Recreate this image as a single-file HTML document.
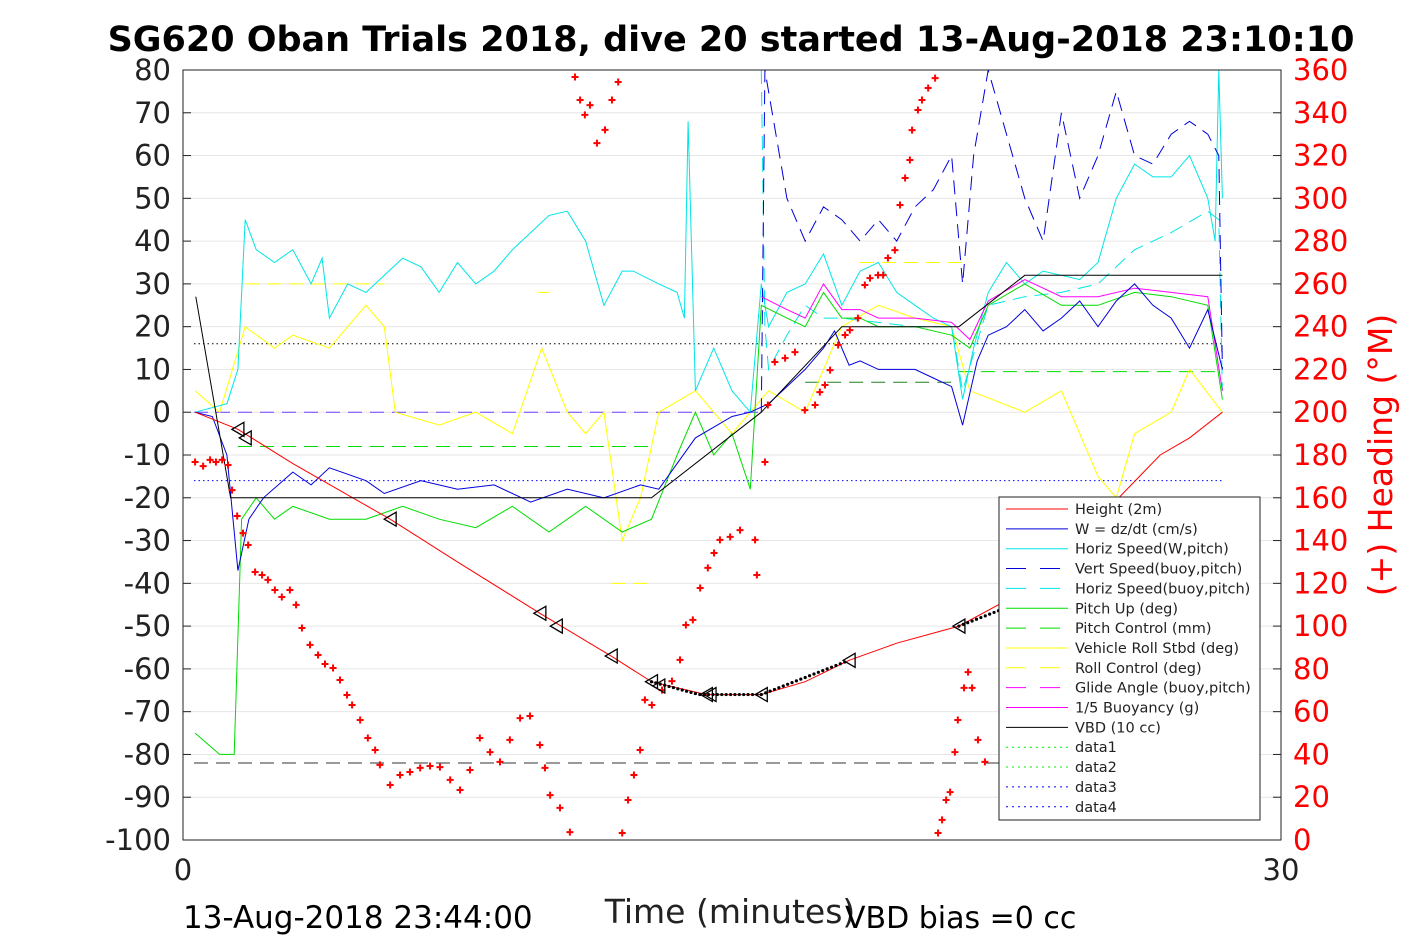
<!DOCTYPE html>
<html><head><meta charset="utf-8"><style>
body{margin:0;background:#fff;font-family:"Liberation Sans","DejaVu Sans",sans-serif}
svg{display:block}
</style></head><body>
<svg id="chart" width="1417" height="945" xmlns="http://www.w3.org/2000/svg" font-family="DejaVu Sans, Liberation Sans, sans-serif">
<rect width="1417" height="945" fill="#fff"/>
<g id="grid"></g><g id="series"></g><g id="axes"></g><g id="legend"></g>
</svg>
<script>
const NS='http://www.w3.org/2000/svg';
const X0=183,X1=1281,Y0=840,Y1=70;
const xs=t=>X0+(t/30)*(X1-X0);
const ys=v=>Y0-(v+100)/180*(Y0-Y1);
const hs=h=>Y0-h/360*(Y0-Y1);
const leftTicks=[80,70,60,50,40,30,20,10,0,-10,-20,-30,-40,-50,-60,-70,-80,-90,-100];
const rightTicks=[360,340,320,300,280,260,240,220,200,180,160,140,120,100,80,60,40,20,0];
const xTicks=[0,30];
const heightT=[0.33,1.5,3,5.66,7.5,9.75,11.7,12.8,14.3,15.8,17,18.2,19.5,21.2,22.5,24,25,26.7,27.5,28.4];
const heightV=[0,-4,-12,-25,-35,-47,-57,-63,-66,-66,-63,-58,-54,-50,-44,-35,-25,-10,-6,0];
const wT=[0.33,0.8,1.2,1.5,1.8,2.2,3,3.5,4,5,5.5,6.5,7.5,8.5,9.5,10.5,11.5,12.5,13,13.5,14,15,15.5,16,16.5,17,17.5,17.8,18.2,18.5,19,20,20.5,21,21.3,21.7,22,22.5,23,23.5,24,24.5,25,25.5,26,26.5,27,27.5,28,28.4];
const wV=[0,-1,-10,-37,-25,-20,-14,-17,-13,-16,-19,-16,-18,-17,-21,-18,-20,-17,-18,-12,-6,-1,0,2,6,10,15,19,11,12,10,10,8,6,-3,12,18,20,24,19,22,26,20,26,30,25,22,15,24,10];
const hsT=[0.33,1.2,1.5,1.7,2,2.5,3,3.5,3.8,4,4.5,5,5.5,6,6.5,7,7.5,8,8.5,9,9.5,10,10.5,11,11.5,12,12.3,13,13.5,13.7,13.8,14,14.5,15,15.5,15.8,16,16.5,17,17.5,18,18.5,19,19.5,20,20.5,21,21.3,21.6,22,22.5,23,23.5,24,24.5,25,25.5,26,26.5,27,27.5,28,28.2,28.3,28.4];
const hsV=[0,2,10,45,38,35,38,30,36,22,30,28,32,36,34,28,35,30,33,38,42,46,47,40,25,33,33,30,28,22,68,5,15,5,0,30,20,28,30,37,25,33,35,28,25,22,20,3,15,28,35,30,33,32,31,35,50,58,55,55,60,50,40,80,50];
const hbT=[15.8,15.9,16,16.5,17,17.5,18,19,20,21,21.3,22,23,24,25,26,27,28,28.3,28.4];
const hbV=[80,20,10,18,25,22,22,21,20,20,5,25,27,28,30,38,42,47,45,5];
const vbT=[15.8,15.9,16.2,16.5,17,17.5,18,18.5,19,19.5,20,20.5,21,21.3,21.6,22,22.5,23,23.5,24,24.5,25,25.5,26,26.5,27,27.5,28,28.3,28.4];
const vbV=[0,80,65,50,40,48,45,40,45,40,48,52,60,30,60,80,65,50,40,70,50,60,75,60,58,65,68,65,60,10];
const pitchT=[0.33,1,1.4,1.6,2,2.5,3,4,5,6,7,8,9,10,11,12,12.8,13.5,14,14.5,15,15.5,15.8,16.5,17,17.5,18,18.5,19,20,21,21.5,22,23,24,25,26,27,28,28.4];
const pitchV=[-75,-80,-80,-25,-20,-25,-22,-25,-25,-22,-25,-27,-22,-28,-22,-28,-25,-10,0,-10,-5,-18,25,22,20,28,22,22,20,20,18,15,25,30,25,25,28,27,25,3];
const buoyT=[15.8,16.5,17,17.5,18,18.5,19,20,21,21.5,22,23,24,25,26,27,28,28.4];
const buoyV=[27,24,22,30,24,24,22,22,21,17,26,31,27,27,29,28,27,5];
const rollT=[0.33,1,1.7,2.5,3,4,5,5.5,5.8,7,8,9,9.8,10.5,11,11.5,12,12.5,13,14,15,16,17,17.5,18,19,20,21,21.5,23,24,25,25.5,26,27,27.5,28.4];
const rollV=[5,0,20,15,18,15,25,20,0,-3,0,-5,15,0,-5,0,-30,-20,0,5,-5,5,0,10,20,25,22,20,5,0,5,-15,-20,-5,0,10,0];
const vbdT=[0.35,1.3,12.8,15.8,18,21.2,23,28.4];
const vbdV=[27,-20,-20,0,20,20,32,32];
const headT=[0.33,0.55,0.74,0.9,1.07,1.23,1.34,1.48,1.64,1.78,1.97,2.16,2.32,2.51,2.7,2.92,3.09,3.25,3.47,3.69,3.88,4.1,4.29,4.48,4.62,4.84,5.05,5.25,5.38,5.66,5.93,6.2,6.48,6.75,7.02,7.3,7.57,7.84,8.11,8.39,8.66,8.93,9.21,9.48,9.75,9.89,10.03,10.3,10.57,10.71,10.85,10.98,11.12,11.31,11.53,11.72,11.89,12,12.16,12.32,12.49,12.62,12.81,13.09,13.36,13.58,13.74,13.93,14.13,14.34,14.51,14.67,14.95,15.22,15.63,15.68,15.9,15.98,16.17,16.45,16.72,16.99,17.27,17.4,17.54,17.68,17.9,18.09,18.22,18.44,18.63,18.77,18.99,19.13,19.26,19.45,19.59,19.73,19.86,19.92,20.08,20.19,20.36,20.55,20.63,20.74,20.85,20.96,21.09,21.17,21.34,21.45,21.56,21.72,21.91];
const headV=[176.7,174.8,177.7,176.7,177.7,175.3,163.6,151.5,143.5,137.9,125.3,123.9,121.6,116.9,113.6,116.9,109.9,99.1,91.2,86.5,82.3,80.4,74.8,67.8,63.1,56.1,47.7,42.1,35.1,25.7,30.4,31.8,33.7,34.6,34.1,28.1,23.4,32.7,47.7,41.1,36.5,46.8,57,58,44.4,33.7,21,15,3.7,356.7,346,339,343.6,325.8,332,346,354.4,3.3,18.7,30.4,42.1,65.5,63.1,70.1,74.3,84.2,100.5,102.9,117.8,127.2,134.2,140.3,141.7,144.9,140.3,123.9,176.7,203.4,223.5,225.3,228.1,201,203.4,209.4,212.7,219.7,231.4,236.1,238.4,244,259.5,262.7,264.1,264.1,272.1,275.8,296.9,309.5,317.9,331.9,341.3,346,351.6,356.2,3.3,9.4,18.7,22.4,41.1,56.1,71.1,78.5,71.1,46.8,36.5];
const markT=[1.5,1.7,5.66,9.75,10.2,11.7,12.8,13,14.3,14.4,15.8,18.2,21.2];
const markV=[-4,-6,-25,-47,-50,-57,-63,-64,-66,-66,-66,-58,-50];

function el(tag,attrs,parent){const e=document.createElementNS(NS,tag);for(const k in attrs)e.setAttribute(k,attrs[k]);parent.appendChild(e);return e;}
const G=document.getElementById('grid'),S=document.getElementById('series'),A=document.getElementById('axes'),L=document.getElementById('legend');
el('rect',{x:X0,y:Y1,width:X1-X0,height:Y0-Y1,fill:'#fff'},G);
leftTicks.forEach(v=>{if(v!==80&&v!==-100){const l=el('line',{x1:X0,x2:X1,y1:ys(v),y2:ys(v),stroke:'#e6e6e6','stroke-width':1},G);

}});
const clip=el('clipPath',{id:'pc'},el('defs',{},S));el('rect',{x:X0,y:Y1,width:X1-X0,height:Y0-Y1},clip);
const SG=el('g',{'clip-path':'url(#pc)'},S);
function line(T,V,color,name,dash,w){const d=T.map((t,i)=>(i?'L':'M')+xs(t).toFixed(1)+','+ys(V[i]).toFixed(1)).join('');
const p=el('path',{d:d,fill:'none',stroke:color,'stroke-width':w||1},SG);if(dash)p.setAttribute('stroke-dasharray',dash);

return p;}
function hline(v,t0,t1,color,dash,name){const l=el('line',{x1:xs(t0),x2:xs(t1),y1:ys(v),y2:ys(v),stroke:color,'stroke-dasharray':dash},SG);

}
hline(16,0.3,28.4,'#000','1.5 3','data1-line');
hline(-16,0.3,28.4,'#0000ff','1.5 3','data4-line');
hline(-82,0.3,28.4,'#333','14 8','glide-angle-line');
hline(0,0.3,15.8,'#7040ff','14 8','vert-speed-zero');
hline(-8,1.5,12.8,'#00dd00','14 8','pitch-control-a');
hline(7,17,21.2,'#208020','14 8','pitch-control-b');
hline(9.5,21.2,28.4,'#00dd00','14 8','pitch-control-c');
hline(30,1.7,5.5,'#ffff00','14 8','roll-control-a');
hline(28,9.7,10,'#ffff00','14 8','roll-control-b');
hline(-40,11.7,12.8,'#ffff00','14 8','roll-control-c');
hline(35,18.5,21.3,'#ffff00','14 8','roll-control-d');
line(rollT,rollV,'#ffff00','vehicle-roll-line');
line(hbT,hbV,'#00e5e5','horiz-speed-buoy-line','14 8');
line(hsT,hsV,'#00e5e5','horiz-speed-line');
line(vbT,vbV,'#0000dd','vert-speed-buoy-line','14 8');
line(buoyT,buoyV,'#ff00ff','buoyancy-line');
line(pitchT,pitchV,'#00dd00','pitch-line');
line(wT,wV,'#0000dd','w-line');
line(heightT,heightV,'#ff0000','height-line');
line(vbdT,vbdV,'#000','vbd-line');
headT.forEach((t,i)=>{const x=xs(t),y=hs(headV[i]);const p=el('path',{d:`M${x-3.5},${y}h7M${x},${y-3.5}v7`,stroke:'#ff0000','stroke-width':2},SG);

});
markT.forEach((t,i)=>{const x=xs(t),y=ys(markV[i]);const p=el('path',{d:`M${x+6},${y-7}L${x-6},${y}L${x+6},${y+7}Z`,fill:'none',stroke:'#000','stroke-width':1.3},SG);

});
for(let t=12.8;t<=15.8;t+=0.12){el('circle',{cx:xs(t),cy:ys(-63-3*Math.min(1,(t-12.8)/1.3)),r:1.6,fill:'#000'},SG);}
for(let t=15.8;t<=18.2;t+=0.12){el('circle',{cx:xs(t),cy:ys(-66+8*(t-15.8)/2.4),r:1.6,fill:'#000'},SG);}
for(let t=21.2;t<=22.4;t+=0.12){el('circle',{cx:xs(t),cy:ys(-50+4*(t-21.2)/1.2),r:1.6,fill:'#000'},SG);}
el('rect',{x:X0,y:Y1,width:X1-X0,height:Y0-Y1,fill:'none',stroke:'#222','stroke-width':1},A);
leftTicks.forEach(v=>{const t=el('text',{x:X0-12,y:ys(v)+10,'text-anchor':'end','font-size':29,fill:'#222'},A);t.textContent=v;


el('line',{x1:X0,x2:X0+8,y1:ys(v),y2:ys(v),stroke:'#222'},A);});
rightTicks.forEach(v=>{const t=el('text',{x:X1+12,y:hs(v)+10,'font-size':29,fill:'#ff0000'},A);t.textContent=v;


el('line',{x1:X1-8,x2:X1,y1:hs(v),y2:hs(v),stroke:'#222'},A);});
xTicks.forEach(v=>{const t=el('text',{x:xs(v),y:880,'text-anchor':'middle','font-size':29,fill:'#222'},A);t.textContent=v;

});
function txt(s,attrs,name){const t=el('text',attrs,A);t.textContent=s;

return t;}
txt('SG620 Oban Trials 2018, dive 20 started 13-Aug-2018 23:10:10',{x:731,y:51,'text-anchor':'middle','font-size':35,'font-weight':'bold',fill:'#000'},'chart-title');
txt('Time (minutes)',{x:730,y:923,'text-anchor':'middle','font-size':33,fill:'#222'},'x-axis-title');
txt('13-Aug-2018 23:44:00',{x:183,y:928,'font-size':31,fill:'#000'},'end-date');
txt('VBD bias =0 cc',{x:845,y:928,'font-size':30,fill:'#000'},'vbd-bias');
txt('(+) Heading (°M)',{x:0,y:0,transform:'translate(1392,455) rotate(-90)','text-anchor':'middle','font-size':33,fill:'#ff0000'},'heading-axis-title');
const lg=el('rect',{x:999,y:497,width:261,height:323,fill:'#fff',stroke:'#222'},L);


const legNames=['Height (2m)','W = dz/dt (cm/s)','Horiz Speed(W,pitch)','Vert Speed(buoy,pitch)','Horiz Speed(buoy,pitch)','Pitch Up (deg)','Pitch Control (mm)','Vehicle Roll Stbd (deg)','Roll Control (deg)','Glide Angle (buoy,pitch)','1/5 Buoyancy (g)','VBD (10 cc)','data1','data2','data3','data4'];
const legColors=['#ff0000','#0000dd','#00e5e5','#0000dd','#00e5e5','#00dd00','#00dd00','#ffff00','#ffff00','#ff00ff','#ff00ff','#000','#00ee00','#00ee00','#0000ff','#0000ff'];
const legDash=['','','','20 14','20 14','','20 14','','20 14','20 14','','','2 4','2 4','2 4','2 4'];
legNames.forEach((n,i)=>{const y=509+i*19.85;
const l=el('line',{x1:1006,x2:1068,y1:y,y2:y,stroke:legColors[i],'stroke-width':1},L);if(legDash[i])l.setAttribute('stroke-dasharray',legDash[i]);


const t=el('text',{x:1075,y:y+5,'font-size':14.5,fill:'#222'},L);t.textContent=n;

});
</script>
</body></html>
